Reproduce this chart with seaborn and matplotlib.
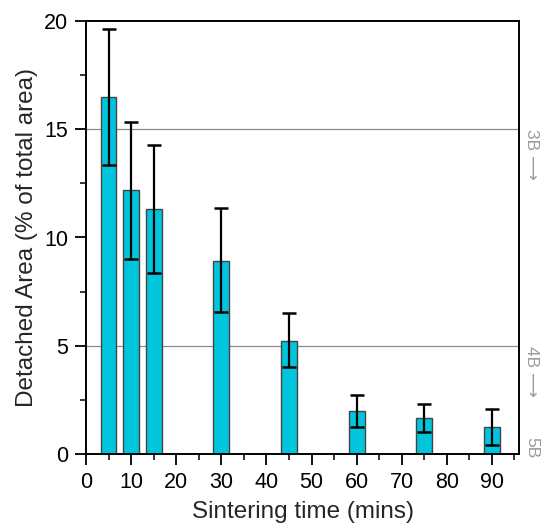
import matplotlib
matplotlib.use("Agg")
import matplotlib.pyplot as plt
import seaborn as sns
import numpy as np
import pandas as pd
from matplotlib.ticker import MultipleLocator

# data
times = [5, 10, 15, 30, 45, 60, 75, 90]
area = [16.5, 12.2, 11.3, 8.9, 5.2, 1.97, 1.65, 1.25]
err_high = [19.65, 15.33, 14.28, 11.35, 6.5, 2.72, 2.31, 2.07]
err_low = [13.35, 9.0, 8.38, 6.56, 4.0, 1.23, 1.0, 0.42]
grade_labels = ["3B \u27f6", "4B \u27f6", "5B"]
grade_levels = [15, 5, 0.8]
grade_lines = [15, 5]

sns.set_theme(style="ticks")
plt.rcParams["font.family"] = ["Liberation Sans", "DejaVu Sans"]

df = pd.DataFrame({"time": times, "area": area})

fig = plt.figure(figsize=(5.44, 5.32), dpi=100)
ax = fig.add_axes([86/544, 1-454/532, (519-86)/544, (454-21)/532])

for lv in grade_lines:
    ax.axhline(lv, color="#8c8c8c", lw=0.9, zorder=0)

sns.barplot(data=df, x="time", y="area", native_scale=True, width=0.7,
            color="#00C5DD", saturation=1, edgecolor="#444444", linewidth=1.0,
            errorbar=None, ax=ax, zorder=2)

a = np.array(area)
yerr = np.vstack([a - np.array(err_low), np.array(err_high) - a])
ax.errorbar(times, area, yerr=yerr, fmt="none", ecolor="black",
            elinewidth=1.6, capsize=5, capthick=1.8, zorder=3)

ax.set_xlim(0, 96)
ax.set_ylim(0, 20)
ax.xaxis.set_major_locator(MultipleLocator(10))
ax.xaxis.set_minor_locator(MultipleLocator(5))
ax.yaxis.set_major_locator(MultipleLocator(5))
ax.yaxis.set_minor_locator(MultipleLocator(2.5))
ax.tick_params(which="major", direction="out", length=8, width=1.3,
               labelsize=15.5, colors="black", pad=5)
ax.tick_params(which="minor", direction="out", length=4.5, width=1.3)
ax.tick_params(top=False, right=False, which="both")
for s in ax.spines.values():
    s.set_visible(True)
    s.set_linewidth(1.4)
    s.set_color("black")

ax.set_xlabel("Sintering time (mins)", fontsize=17.5, labelpad=6)
ax.set_ylabel("Detached Area (% of total area)", fontsize=17.5, labelpad=4)

for lab, lv in zip(grade_labels, grade_levels):
    ax.text(1.03, lv, lab, transform=ax.get_yaxis_transform(), rotation=-90,
            rotation_mode="anchor", ha="left", va="center", fontsize=12.5,
            color="#9a9a9a", clip_on=False)

fig.savefig("out.png", dpi=100)
